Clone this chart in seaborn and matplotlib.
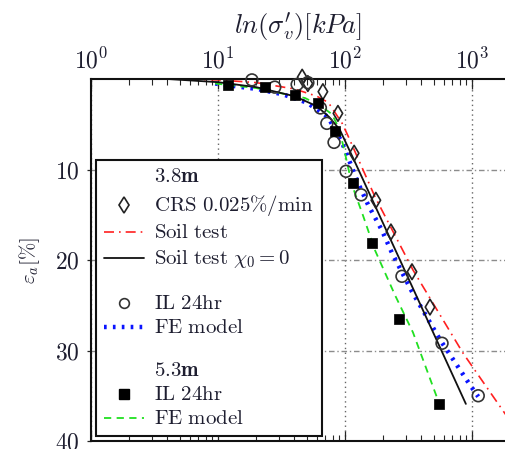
import matplotlib
matplotlib.use("Agg")
import matplotlib.pyplot as plt
import seaborn as sns
from matplotlib.lines import Line2D

# --- data (stress in kPa, strain in %) ---
# 3.8m CRS test
crs_sigma = [46, 51, 67, 88, 118, 175, 230, 337, 467]
crs_eps = [-0.2, 0.5, 1.4, 3.8, 8.2, 13.4, 16.9, 21.3, 25.2]

# 3.8m IL 24hr
il38_sigma = [18.5, 28, 42, 51, 64, 72, 82, 102, 134, 281, 581, 1120]
il38_eps = [0.1, 0.9, 0.6, 0.4, 3.2, 4.9, 7.0, 10.2, 12.8, 21.8, 29.2, 35.0]

# 5.3m IL 24hr
il53_sigma = [12, 23.4, 40.4, 61.4, 83.5, 115.6, 163, 266, 550]
il53_eps = [0.7, 0.9, 1.8, 2.7, 5.7, 11.5, 18.1, 26.5, 35.9]

# Soil test (red dash-dot)
soil_sigma = [4, 10, 20, 40, 60, 74, 95, 105, 172, 343, 851, 1574, 2000]
soil_eps = [0.0, 0.1, 0.4, 1.1, 1.9, 2.6, 4.9, 6.2, 13.0, 21.1, 30.3, 35.7, 37.8]

# Soil test chi0 = 0 (black)
chi0_sigma = [4, 10, 20, 40, 60, 75, 91, 120, 271, 895]
chi0_eps = [0.0, 0.35, 0.9, 1.9, 3.0, 4.2, 5.6, 9.2, 20.0, 35.9]

# FE model 3.8m (blue dotted)
fe38_sigma = [9.5, 15.5, 20.3, 32.5, 50, 73.5, 94.7, 126, 152, 195, 234, 337, 560, 964, 1120]
fe38_eps = [0.5, 0.9, 1.1, 1.7, 2.6, 4.2, 7.0, 11.4, 13.9, 16.7, 19.2, 23.5, 28.8, 33.8, 35.1]

# FE model 5.3m (green dashed)
fe53_sigma = [9.5, 20, 32, 48.4, 65, 79, 90, 100, 113.5, 138, 172, 248, 343, 540]
fe53_eps = [0.5, 1.0, 1.6, 2.1, 3.0, 3.9, 5.5, 8.2, 11.7, 15.0, 18.9, 23.9, 28.0, 35.5]

y_ticks = [10, 20, 30, 40]

sns.set_style("ticks")
plt.rcParams['font.family'] = ['cmr10', 'DejaVu Serif']
plt.rcParams['mathtext.fontset'] = 'cm'
plt.rcParams['axes.formatter.use_mathtext'] = True
TXT = '#1e1e30'

fig = plt.figure(figsize=(5.05, 4.49), dpi=100)
ax = fig.add_axes([91 / 505, 8 / 449, 414 / 505, 362 / 449])
ax.set_xscale('log')

# lines
red_ls = (0, (6, 3, 1, 3))
blue_ls = (0, (0.6, 1.4))
green_ls = (0, (4, 3))
sns.lineplot(x=soil_sigma, y=soil_eps, sort=False, estimator=None, ax=ax,
             color='#ff2020', lw=1.2, linestyle=red_ls)
sns.lineplot(x=fe38_sigma, y=fe38_eps, sort=False, estimator=None, ax=ax,
             color='#0a14ff', lw=3.2, linestyle=blue_ls)
sns.lineplot(x=fe53_sigma, y=fe53_eps, sort=False, estimator=None, ax=ax,
             color='#20e020', lw=1.3, linestyle=green_ls)
sns.lineplot(x=chi0_sigma, y=chi0_eps, sort=False, estimator=None, ax=ax,
             color='#111111', lw=1.3)

# markers
sns.scatterplot(x=crs_sigma, y=crs_eps, ax=ax, marker='d', s=64,
                facecolor='none', edgecolor='#222222', linewidth=1.2, clip_on=False, zorder=5)
sns.scatterplot(x=il38_sigma, y=il38_eps, ax=ax, marker='o', s=72,
                facecolor='none', edgecolor='#333333', linewidth=1.2, clip_on=False, zorder=5)
sns.scatterplot(x=il53_sigma, y=il53_eps, ax=ax, marker='s', s=48,
                facecolor='black', edgecolor='black', linewidth=0.5, zorder=5)

ax.set_xlim(1, 10 ** 3.26)
ax.set_ylim(40, 0)
ax.set_yticks(y_ticks)

# grid
ax.grid(False)
ax.xaxis.grid(True, which='major', ls=(0, (1, 2.5)), color='0.4', lw=1.0)
ax.yaxis.grid(True, which='major', ls=(0, (4, 2, 1, 2)), color='0.55', lw=1.0)

# ticks and spines
ax.tick_params(axis='x', which='both', direction='in', top=True, bottom=True,
               labeltop=True, labelbottom=False, labelsize=17, labelcolor=TXT, pad=4)
ax.tick_params(axis='x', which='major', length=7, width=0.9)
ax.tick_params(axis='x', which='minor', length=4.5, width=0.8)
ax.tick_params(axis='y', direction='out', length=3, width=0.9, labelsize=17,
               labelcolor=TXT, pad=5)
for side in ['top', 'bottom', 'left']:
    ax.spines[side].set_linewidth(1.5)
    ax.spines[side].set_color('#111111')
ax.spines['right'].set_visible(False)

ax.xaxis.set_label_position('top')
ax.set_xlabel(r"$ln(\sigma_v')[kPa]$", fontsize=19, color=TXT)
ax.xaxis.set_label_coords(0.5, 1.125)
ax.set_ylabel(r"$\varepsilon_a[\%]$", fontsize=15, color=TXT)
ax.yaxis.set_label_coords(-0.118, 0.5)

# legend
blank = Line2D([], [], ls='none')
handles = [
    blank,
    Line2D([], [], ls='none', marker='d', ms=8, mfc='none', mec='#222222', mew=1.2),
    Line2D([], [], color='#ff2020', lw=1.2, ls=red_ls),
    Line2D([], [], color='#111111', lw=1.3),
    blank,
    Line2D([], [], ls='none', marker='o', ms=7, mfc='none', mec='#333333', mew=1.2),
    Line2D([], [], color='#0a14ff', lw=3.2, ls=blue_ls),
    blank,
    blank,
    Line2D([], [], ls='none', marker='s', ms=6.5, mfc='black', mec='black'),
    Line2D([], [], color='#20e020', lw=1.3, ls=green_ls),
]
labels = [
    r"$\mathbf{3.8m}$",
    r"$\mathrm{CRS\ 0.025\%/min}$",
    r"$\mathrm{Soil\ test}$",
    r"$\mathrm{Soil\ test}\ \chi_0 = 0$",
    " ",
    r"$\mathrm{IL\ 24hr}$",
    r"$\mathrm{FE\ model}$",
    " ",
    r"$\mathbf{5.3m}$",
    r"$\mathrm{IL\ 24hr}$",
    r"$\mathrm{FE\ model}$",
]
leg = ax.legend(handles, labels, loc='lower left', fontsize=15, frameon=True,
                fancybox=False, edgecolor='#111111', framealpha=1,
                handlelength=1.9, handleheight=0.3, handletextpad=0.5,
                labelspacing=0.3, borderpad=0.4, borderaxespad=0.22)
leg.get_frame().set_linewidth(1.5)
for i, t in enumerate(leg.get_texts()):
    t.set_color(TXT)
    if labels[i] == " ":
        t.set_fontsize(1)
leg.set_zorder(10)

fig.savefig("out.png", dpi=100)
